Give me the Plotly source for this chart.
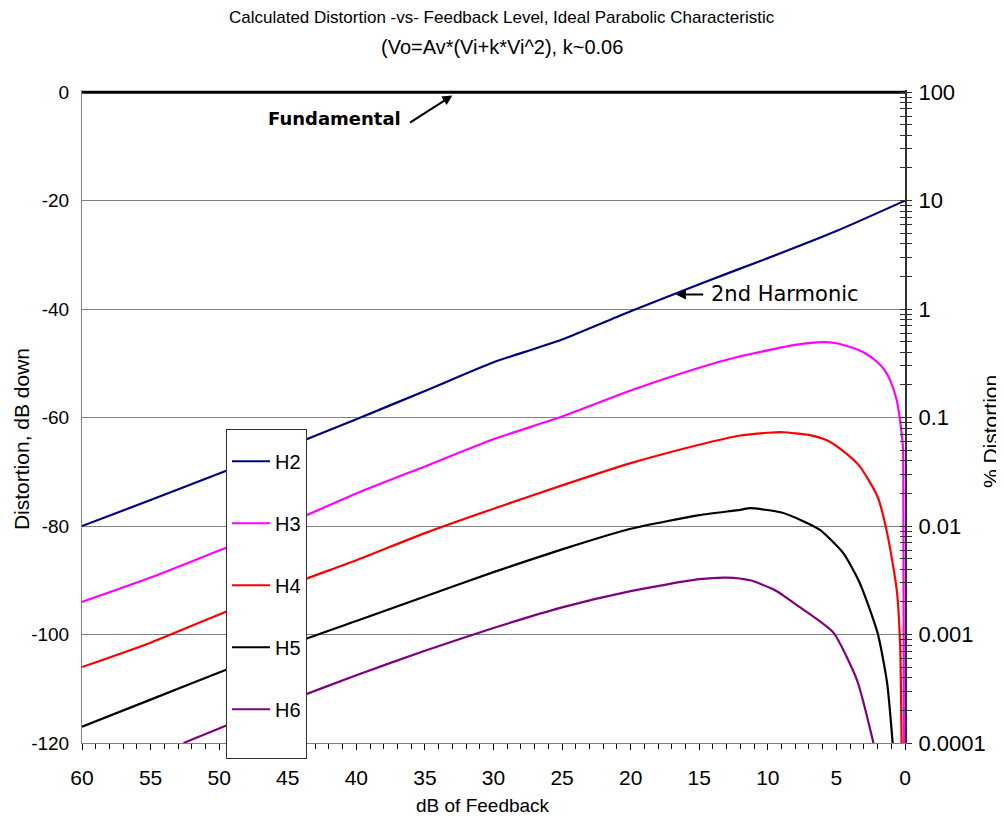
import plotly.graph_objects as go

# ---- data ----
fb_h2 = [60, 55, 50, 45, 40, 35, 30, 27, 25, 20, 15, 10, 5, 0]
h2 = [-80, -75.2, -70.3, -65.4, -60.3, -55.1, -49.8, -47.3, -45.6, -40.4, -35.4, -30.6, -25.6, -20]

fb_h3 = [60, 55, 50, 45, 40, 35, 30, 25, 20, 15, 12, 10, 8, 6, 5, 4, 3, 2, 1.5, 1.1, 0.6, 0.36, 0.15, 0.12, 0.08]
h3 = [-94, -89.5, -84.5, -79.5, -74, -69, -64, -59.8, -55, -50.8, -48.7, -47.6, -46.6, -46.1, -46.3, -47.0, -48.0, -49.8, -51.2, -53, -56.8, -60.5, -65.4, -72, -120]

fb_h4 = [60, 55, 50, 45, 40, 35, 30, 25, 20, 15, 12, 10, 8.9, 7, 5.7, 4.5, 3.3, 2.0, 1.3, 0.6, 0.36, 0.25]
h4 = [-106, -101.5, -96.3, -91, -86.3, -81.3, -76.8, -72.5, -68.4, -65, -63.3, -62.8, -62.7, -63.2, -64.2, -66.2, -69, -74.6, -81.3, -91.8, -101.6, -120]

fb_h5 = [60, 55, 50, 45, 40, 35, 30, 25, 20, 15, 12, 11.3, 9, 7.5, 6.2, 4.5, 3.3, 2.0, 1.3, 0.9]
h5 = [-117, -112, -107, -102, -97.5, -93, -88.5, -84.3, -80.5, -78, -77, -76.7, -77.5, -79, -80.7, -85, -90.5, -99.7, -109, -120]

fb_h6 = [52.6, 49.7, 45, 40, 35, 30, 25, 20, 15, 13, 11.3, 9.5, 7.7, 6.5, 5.2, 3.5, 2.3]
h6 = [-120, -117, -112.3, -107.5, -103, -98.8, -95, -92, -89.8, -89.5, -90, -91.8, -94.9, -97, -99.7, -108.4, -120]

fb_fund = [60, 0]
fund = [0, 0]

x_ticks = [60, 55, 50, 45, 40, 35, 30, 25, 20, 15, 10, 5, 0]
y_ticks = [0, -20, -40, -60, -80, -100, -120]
y_labels = ["0", "-20", "-40", "-60", "-80", "-100", "-120"]
pct_ticks = [100, 10, 1, 0.1, 0.01, 0.001, 0.0001]
pct_labels = ["100", "10", "1", "0.1", "0.01", "0.001", "0.0001"]

series = [
    ("H2", fb_h2, h2, "#000080"),
    ("H3", fb_h3, h3, "#FF00FF"),
    ("H4", fb_h4, h4, "#FF0000"),
    ("H5", fb_h5, h5, "#000000"),
    ("H6", fb_h6, h6, "#800080"),
]

FONT = "Liberation Sans, Arial, sans-serif"
OFF = 8  # page body margin
L, R, T, B = 82 - OFF, 905 - OFF, 92 - OFF, 743 - OFF
W, H = 1004 - OFF, 827 - OFF
PW, PH = R - L, B - T

fig = go.Figure()
fig.add_trace(go.Scatter(x=fb_fund, y=fund, mode="lines", line=dict(color="black", width=3),
                         showlegend=False, hoverinfo="skip"))
for name, xs, ys, col in series:
    fig.add_trace(go.Scatter(x=xs, y=ys, mode="lines", name=name, legendgroup=name,
                             line=dict(color=col, width=2.2, shape="spline", smoothing=0.6)))

# blank legend row that only pads the bottom of the legend box
fig.add_trace(go.Scatter(x=[60], y=[-200], mode="lines", name=" ", legendgroup="H6",
                         line=dict(color="rgba(0,0,0,0)", width=0), hoverinfo="skip"))

minor_pct = [m * 10 ** e for e in range(-4, 2) for m in range(2, 10)]

fig.update_layout(
    width=W, height=H,
    margin=dict(l=L, r=W - R, t=T - 2, b=H - B),
    paper_bgcolor="white", plot_bgcolor="white",
    font=dict(family=FONT, size=20, color="black"),
    xaxis=dict(range=[60, 0], tickvals=x_ticks, ticks="outside", ticklen=6, tickcolor="black",
               showgrid=False, zeroline=False, showline=True, linecolor="#808080", linewidth=1,
               minor=dict(dtick=1, ticks="outside", ticklen=5, tickcolor="black"),
               ticklabelstandoff=10, automargin=False, tickfont=dict(size=21)),
    yaxis=dict(range=[-120, 0.4], tickvals=y_ticks, ticktext=y_labels, ticks="", showgrid=True,
               gridcolor="#808080", gridwidth=1, zeroline=False, showline=True, linecolor="#808080",
               linewidth=1, ticklabelstandoff=8, automargin=False, tickfont=dict(size=19)),
    yaxis2=dict(type="log", range=[-4, 2.02], overlaying="y", side="right", anchor="x",
                tickvals=pct_ticks, ticktext=pct_labels, ticks="outside", ticklen=5, tickcolor="#303030",
                showgrid=False, zeroline=False, showline=True, linecolor="#303030", linewidth=2,
                minor=dict(tickvals=minor_pct, ticks="outside", ticklen=5, tickcolor="#303030"),
                ticklabelstandoff=2, automargin=False, tickfont=dict(size=22)),
    yaxis3=dict(type="log", range=[-4, 2.02], overlaying="y", side="right", anchor="x",
                tickvals=pct_ticks, showticklabels=False, ticks="inside", ticklen=5, tickcolor="#303030",
                showgrid=False, zeroline=False, showline=False,
                minor=dict(tickvals=minor_pct, ticks="inside", ticklen=5, tickcolor="#303030"),
                automargin=False),
    legend=dict(x=(226 - OFF - L) / PW, y=(B - (430 - OFF)) / PH, xanchor="left", yanchor="top",
                bgcolor="white", bordercolor="#303030", borderwidth=1, font=dict(size=20),
                tracegroupgap=33, traceorder="grouped", itemwidth=38,
                title=dict(text=" ", font=dict(size=9))),
    showlegend=True,
)

# invisible traces to bind the right-hand axes
fig.add_trace(go.Scatter(x=[60], y=[1], yaxis="y2", mode="markers", marker=dict(opacity=0),
                         showlegend=False, hoverinfo="skip"))
fig.add_trace(go.Scatter(x=[60], y=[1], yaxis="y3", mode="markers", marker=dict(opacity=0),
                         showlegend=False, hoverinfo="skip"))

def px(xp):
    return (xp - OFF - L) / PW

def py(yp):
    return (B - (yp - OFF)) / PH

fig.add_annotation(text="Calculated Distortion -vs- Feedback Level, Ideal Parabolic Characteristic",
                   xref="paper", yref="paper", x=px(502), y=py(20), xanchor="center", yanchor="middle",
                   showarrow=False, font=dict(size=17))
fig.add_annotation(text="(Vo=Av*(Vi+k*Vi^2), k~0.06", xref="paper", yref="paper",
                   x=px(502), y=py(49), xanchor="center", yanchor="middle", showarrow=False,
                   font=dict(size=20))
fig.add_annotation(text="dB of Feedback", xref="paper", yref="paper", x=px(483), y=py(805),
                   xanchor="center", yanchor="middle", showarrow=False, font=dict(size=19))
fig.add_annotation(text="Distortion, dB down", xref="paper", yref="paper", x=px(21), y=py(440),
                   xanchor="center", yanchor="middle", textangle=-90, showarrow=False,
                   font=dict(size=21))
fig.add_annotation(text="% Distortion", xref="paper", yref="paper", x=px(990), y=py(433),
                   xanchor="center", yanchor="middle", textangle=-90, showarrow=False,
                   font=dict(size=21))

fig.add_annotation(x=33.0, y=-0.6, ax=36.2, ay=-5.8, axref="x", ayref="y",
                   text="", showarrow=True, arrowhead=2, arrowsize=1, arrowwidth=2, arrowcolor="black")
fig.add_annotation(x=36.6, y=-4.8, text="<b>Fundamental</b>", showarrow=False, xanchor="right",
                   font=dict(family="DejaVu Sans", size=18))
fig.add_annotation(x=16.7, y=-37.3, ax=14.6, ay=-37.3, axref="x", ayref="y",
                   text="", showarrow=True, arrowhead=2, arrowsize=1, arrowwidth=2, arrowcolor="black")
fig.add_annotation(x=14.3, y=-37.3, text="2nd Harmonic", showarrow=False, xanchor="left",
                   font=dict(family="DejaVu Sans", size=21))

fig.write_html("out.html")
